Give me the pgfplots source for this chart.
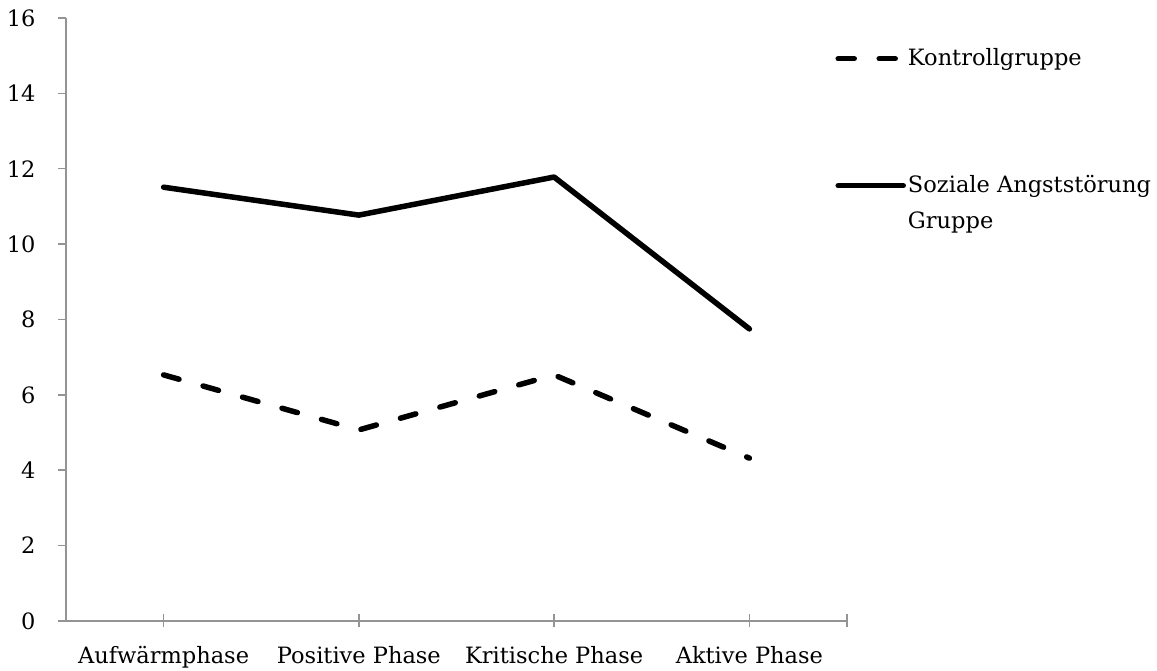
\documentclass[border=0pt]{standalone}
\usepackage{pgfplots}
\pgfplotsset{compat=1.18}
\usepackage{fontspec}
\setmainfont{DejaVu Serif}
\begin{document}
\begin{tikzpicture}[x=1pt,y=1pt]
\useasboundingbox (-66,-50) rectangle (1091,621);
\begin{axis}[
  scale only axis,
  width=781pt, height=603pt,
  xmin=-0.5, xmax=3.5, ymin=0, ymax=16,
  axis x line=bottom, axis y line=left,
  axis line style={-, draw=black!42, line width=1.5pt},
  xtick={0,1,2,3,3.5},
  xticklabels={Aufwärmphase,Positive Phase,Kritische Phase,Aktive Phase,},
  ytick={0,2,...,16},
  major tick style={draw=black!42, line width=1.5pt},
  xtick align=center, ytick align=outside,
  major tick length=13pt,
  y tick style={/pgfplots/major tick length=8pt},
  tick label style={font=\fontsize{22.5}{28}\selectfont},
  /pgf/number format/assume math mode=true,
  yticklabel style={xshift=-14pt},
  xticklabel style={yshift=-15pt},
  legend style={at={(0.985,0.953)}, anchor=north west, draw=none, fill=none,
    font=\fontsize{22.5}{35}\selectfont, row sep=97pt, inner sep=0pt,
    cells={anchor=base west}},
  legend image code/.code={\draw[#1] (0pt,7pt) -- (65pt,7pt);},
  clip=false,
]
\addplot[black, line width=5.5pt, line cap=round, dash pattern=on 16pt off 25pt]
  coordinates {(0,6.53) (1,5.07) (2,6.53) (3,4.32)};
\addlegendentry{Kontrollgruppe}
\addplot[black, line width=5.5pt, line cap=round, line join=round]
  coordinates {(0,11.51) (1,10.77) (2,11.78) (3,7.75)};
\addlegendentry{\begin{tabular}[t]{@{}l@{}}Soziale Angststörung\\[1pt]Gruppe\end{tabular}}
\end{axis}
\end{tikzpicture}
\end{document}
